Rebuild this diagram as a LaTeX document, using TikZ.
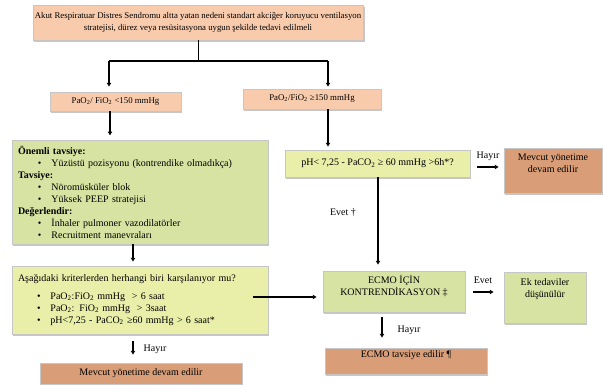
\documentclass[tikz,border=0pt]{standalone}
\usepackage{fontspec}
\setmainfont{Liberation Serif}
\usetikzlibrary{shadows,arrows.meta}
\definecolor{cPeach}{HTML}{F8CBAD}
\definecolor{cOlive}{HTML}{D7E3A2}
\definecolor{cLemon}{HTML}{E9EEA8}
\definecolor{cTan}{HTML}{D99E78}
\newcommand\bitem[1]{\\\hspace*{20pt}\textbullet\hspace{10pt}#1}
\begin{document}
\begin{tikzpicture}[x=1pt,y=-1pt,font=\fontsize{10}{12}\selectfont,
  box/.style={draw=gray!45,line width=0.3pt,align=center,inner sep=2pt,
    drop shadow={opacity=0.45,shadow xshift=1.3pt,shadow yshift=-2pt}},
  arr/.style={line width=1.8pt,-{Latex[length=4pt,width=5pt]}},
  lbl/.style={inner sep=0pt}]
\useasboundingbox (0,0) rectangle (603,385);
% boxes
\node[box,fill=cPeach,minimum width=326pt,minimum height=35pt,font=\fontsize{8.8}{11.5}\selectfont] (top) at (198,22.5)
  {Akut Respiratuar Distres Sendromu altta yatan nedeni standart akciğer koruyucu ventilasyon\\stratejisi, dürez veya resüsitasyona uygun şekilde tedavi edilmeli};
\node[box,fill=cPeach,minimum width=131pt,minimum height=19pt,font=\fontsize{8.8}{11}\selectfont] (lt) at (115.5,101.5)
  {PaO\textsubscript{2}/ FiO\textsubscript{2} <150 mmHg};
\node[box,fill=cPeach,minimum width=138pt,minimum height=20pt,font=\fontsize{8.8}{11}\selectfont] (rt) at (312,99)
  {PaO\textsubscript{2}/FiO\textsubscript{2} ≥150 mmHg};
\node[box,fill=cOlive,minimum width=256pt,minimum height=102pt,text width=244pt,align=left,inner sep=6pt] (big) at (140,192)
  {\textbf{Önemli tavsiye:}\bitem{Yüzüstü pozisyonu (kontrendike olmadıkça)}\\
   \textbf{Tavsiye:}\bitem{Nöromüsküler blok}\bitem{Yüksek PEEP stratejisi}\\
   \textbf{Değerlendir:}\bitem{İnhaler pulmoner vazodilatörler}\bitem{Recruitment manevraları}};
\node[box,fill=cLemon,minimum width=185pt,minimum height=27pt] (ph) at (377.5,163.5)
  {pH< 7,25 - PaCO\textsubscript{2} ≥ 60 mmHg >6h*?};
\node[box,fill=cTan,minimum width=98pt,minimum height=45pt] (mev1) at (553,170.5)
  {Mevcut yönetime\\devam edilir\\\strut};
\node[box,fill=cLemon,minimum width=256pt,minimum height=68pt,text width=244pt,align=left,inner sep=6pt] (crit) at (140,300)
  {Aşağıdaki kriterlerden herhangi biri karşılanıyor mu?\\[6pt]
   \hspace*{19pt}\textbullet\hspace{10pt}PaO\textsubscript{2}:FiO\textsubscript{2} mmHg \ > 6 saat\\
   \hspace*{19pt}\textbullet\hspace{10pt}PaO\textsubscript{2}: FiO\textsubscript{2} mmHg \ > 3saat\\
   \hspace*{19pt}\textbullet\hspace{10pt}pH<7,25 - PaCO\textsubscript{2} ≥60 mmHg > 6 saat*};
\node[box,fill=cOlive,minimum width=142pt,minimum height=41pt] (ecmo) at (394,291.5)
  {ECMO İÇİN\\KONTRENDİKASYON ‡\\[-4pt]\strut};
\node[box,fill=cOlive,minimum width=82pt,minimum height=51pt] (ek) at (545,297.5)
  {Ek tedaviler\\düşünülür\\[4pt]\strut};
\node[box,fill=cTan,minimum width=162pt,minimum height=26pt,inner sep=1pt] (tav) at (406,361)
  {ECMO tavsiye edilir ¶\\[-2pt]\strut};
\node[box,fill=cTan,minimum width=202pt,minimum height=21pt] (mev2) at (141,373.5)
  {Mevcut yönetime devam edilir};
% labels
\node[lbl] (l1) at (343,213) {Evet †};
\node[lbl] (l2) at (488,156) {Hayır};
\node[lbl] (l3) at (483,280) {Evet};
\node[lbl] (l4) at (409,330) {Hayır};
\node[lbl] (l5) at (155,349) {Hayır};
% connectors
\coordinate (j) at (198,61);
\coordinate (jl) at (109,61);
\coordinate (jr) at (328,61);
\coordinate (xl) at (110,0);
\coordinate (xb) at (133,0);
\coordinate (xp) at (378,0);
\coordinate (xe) at (382,0);
\coordinate (y1) at (0,167);
\coordinate (y2) at (0,297);
\coordinate (y3) at (0,292);
\draw[line width=0.9pt] (top.south) -- (j);
\draw[line width=1.4pt] (jl) -- (jr);
\draw[arr,shorten >=5pt] (jl) -- (jl |- lt.north);
\draw[arr,shorten >=2pt] (jr) -- (jr |- rt.north);
\draw[arr,shorten >=4pt] (lt.south -| xl) -- (big.north -| xl);
\draw[arr,shorten >=3pt] (rt.south -| jr) -- (ph.north -| jr);
\draw[arr,shorten >=4pt] (big.south -| xb) -- (crit.north -| xb);
\draw[arr,shorten >=6pt] (ph.south -| xp) -- (ecmo.north -| xp);
\draw[arr,shorten <=7pt,shorten >=5pt] (ph.east |- y1) -- (mev1.west |- y1);
\draw[arr,shorten <=-15pt,shorten >=6pt] (crit.east |- y2) -- (ecmo.west |- y2);
\draw[arr,shorten <=8pt,shorten >=10pt] (ecmo.east |- y3) -- (ek.west |- y3);
\draw[arr,shorten <=5pt,shorten >=10pt] (ecmo.south -| xe) -- (tav.north -| xe);
\draw[arr,shorten <=7pt,shorten >=8pt] (crit.south -| xb) -- (mev2.north -| xb);
\end{tikzpicture}
\end{document}
